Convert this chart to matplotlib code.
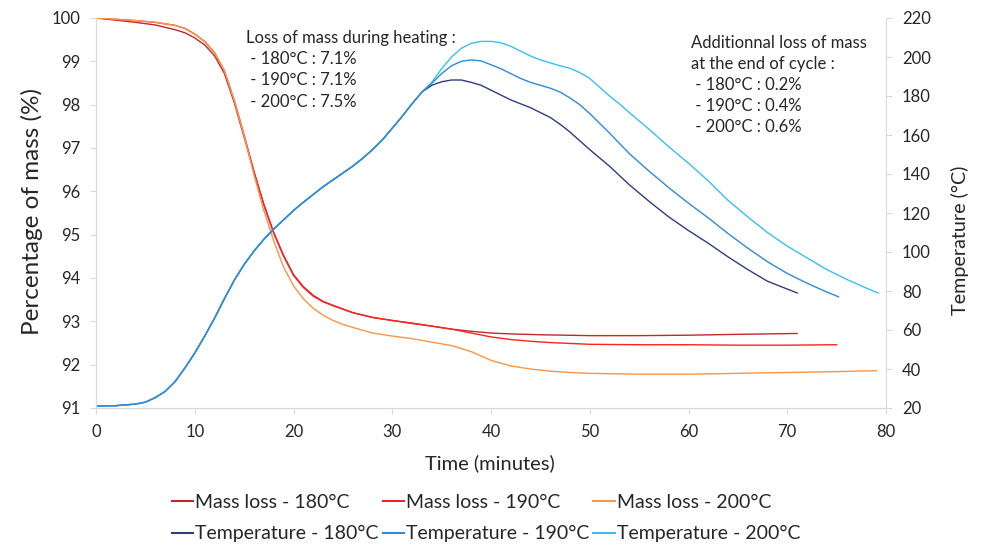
import matplotlib
matplotlib.use('Agg')
import matplotlib.pyplot as plt
from matplotlib.lines import Line2D

plt.rcParams['font.family'] = ['Lato', 'DejaVu Sans']

# ---- data ----
t_m180 = [0, 2, 4, 6, 8, 9, 10, 11, 12, 13, 14, 15, 16, 17, 18, 19, 20, 21, 22, 23, 24,
          26, 28, 30, 32, 34, 36, 38, 40, 42, 45, 50, 55, 60, 65, 71]
m180 = [100, 99.95, 99.9, 99.84, 99.73, 99.66, 99.54, 99.38, 99.13, 98.72, 98.05, 97.25,
        96.45, 95.7, 95.05, 94.52, 94.08, 93.8, 93.6, 93.46, 93.37, 93.2, 93.09, 93.02,
        92.96, 92.89, 92.82, 92.77, 92.73, 92.71, 92.69, 92.67, 92.67, 92.68, 92.7, 92.72]

t_m190 = [0, 2, 4, 6, 8, 9, 10, 11, 12, 13, 14, 15, 16, 17, 18, 19, 20, 21, 22, 23, 24,
          26, 28, 30, 32, 34, 36, 38, 40, 42, 44, 46, 48, 50, 55, 60, 65, 70, 75]
m190 = [100, 99.97, 99.94, 99.9, 99.83, 99.76, 99.63, 99.46, 99.2, 98.78, 98.1, 97.3,
        96.45, 95.68, 95.03, 94.5, 94.06, 93.78, 93.58, 93.45, 93.36, 93.2, 93.09, 93.02,
        92.95, 92.89, 92.82, 92.73, 92.64, 92.58, 92.54, 92.51, 92.49, 92.47, 92.46,
        92.46, 92.45, 92.45, 92.46]

t_m200 = [0, 2, 4, 6, 8, 9, 10, 11, 12, 13, 14, 15, 16, 17, 18, 19, 20, 21, 22, 23, 24,
          25, 26, 28, 30, 32, 34, 36, 38, 40, 42, 44, 46, 48, 50, 55, 60, 65, 70, 75, 79]
m200 = [100, 99.97, 99.94, 99.9, 99.83, 99.76, 99.63, 99.46, 99.2, 98.78, 98.1, 97.28,
        96.38, 95.55, 94.85, 94.25, 93.82, 93.52, 93.3, 93.14, 93.02, 92.93, 92.86, 92.73,
        92.66, 92.6, 92.52, 92.44, 92.3, 92.1, 91.97, 91.9, 91.85, 91.82, 91.8, 91.78,
        91.78, 91.8, 91.82, 91.84, 91.86]

# temperature is common to the three runs up to ~33 min
t_heat = [0, 2, 4, 5, 6, 7, 8, 9, 10, 11, 12, 13, 14, 15, 16, 17, 18, 19, 20, 21, 22,
          23, 24, 25, 26, 27, 28, 29, 30, 31, 32, 33]
T_heat = [21, 21.2, 22, 23, 25.3, 28.5, 33.5, 40.5, 48.2, 56.8, 66, 76, 85.5, 93.6, 100.5,
          106.5, 111.8, 116.5, 121.3, 125.5, 129.5, 133.5, 137, 140.5, 144, 148, 152.5,
          157.5, 163.5, 169.5, 176, 182]

t_T180 = [34, 35, 36, 37, 38, 39, 40, 41, 42, 43, 44, 45, 46, 47, 48, 49, 50, 52, 54, 56,
          58, 60, 62, 64, 66, 68, 70, 71]
T180 = [185.5, 187.3, 188.2, 188.2, 187, 185.5, 183, 180.5, 178, 176, 174, 171.5, 169,
        165.5, 161.5, 157, 152.5, 144, 134.5, 126, 118, 111, 104.5, 97.5, 91, 85, 81, 79]

t_T190 = [34, 35, 36, 37, 38, 39, 40, 41, 42, 43, 44, 45, 46, 47, 48, 49, 50, 52, 54, 56,
          58, 60, 62, 64, 66, 68, 70, 72, 74, 75.2]
T190 = [186.5, 191.5, 195.5, 197.8, 198.5, 198, 196, 194, 191.5, 189, 187, 185.5, 184, 182,
        179, 175.5, 171, 161, 150.5, 141.5, 133, 125, 117.5, 109.5, 102, 95, 89, 84, 79.5, 77]

t_T200 = [34, 35, 36, 37, 38, 39, 40, 41, 42, 43, 44, 45, 46, 47, 48, 49, 50, 51, 52, 53,
          54, 56, 58, 60, 62, 64, 66, 68, 70, 72, 74, 76, 78, 79.2]
T200 = [187, 194, 200, 204.5, 207, 208, 208, 207.3, 205.5, 203, 200.5, 198.5, 197, 195.5,
        194.2, 192, 189, 184.5, 180, 176, 171.5, 163, 154, 145.5, 136.5, 126.5, 118, 110,
        103, 97, 91, 86, 81.5, 79]

heat_note = ['Loss of mass during heating :', ' - 180°C : 7.1%', ' - 190°C : 7.1%',
             ' - 200°C : 7.5%']
cycle_note = ['Additionnal loss of mass', 'at the end of cycle :', ' - 180°C : 0.2%',
              ' - 190°C : 0.4%', ' - 200°C : 0.6%']

C_M180, C_M190, C_M200 = '#C0282F', '#FF2222', '#F79646'
C_T180, C_T190, C_T200 = '#2F3C7E', '#2F8AD8', '#38C0F5'
GRID = '#D9D9D9'
TXT = '#262626'

W, H = 981, 545
fig = plt.figure(figsize=(W / 100, H / 100), dpi=100)
ax = fig.add_axes([96 / W, 1 - 408 / H, 790 / W, 390 / H])
ax2 = ax.twinx()

lw = 1.0
ax.plot(t_m180, m180, color=C_M180, lw=lw)
ax.plot(t_m190, m190, color=C_M190, lw=lw)
ax.plot(t_m200, m200, color=C_M200, lw=lw)

# heating part: same for all runs, then each run continues on its own
for tt, TT, c in [(t_T180, T180, C_T180), (t_T200, T200, C_T200), (t_T190, T190, C_T190)]:
    ax2.plot(t_heat + tt, T_heat + TT, color=c, lw=lw)

ax.set_xlim(0, 80)
ax.set_ylim(91, 100)
ax2.set_ylim(20, 220)
ax.set_xticks(range(0, 81, 10))
ax.set_yticks(range(91, 101))
ax2.set_yticks(range(20, 221, 20))

for a in (ax, ax2):
    for s in a.spines.values():
        s.set_color(GRID)
    a.spines['top'].set_visible(False)
    a.tick_params(colors=GRID, labelcolor=TXT, labelsize=12, length=4.5, width=0.8, pad=7)
ax.spines['right'].set_visible(False)

fig.text(32 / W, 1 - 211 / H, 'Percentage of mass (%)', rotation=90, ha='center',
         va='center', fontsize=17.5, color=TXT)
fig.text(960 / W, 1 - 240 / H, 'Temperature (°C)', rotation=90, ha='center',
         va='center', fontsize=14.2, color=TXT)
fig.text(490 / W, 1 - 463 / H, 'Time (minutes)', ha='center', va='center',
         fontsize=14.5, color=TXT)

for i, line in enumerate(heat_note):
    fig.text(246 / W, 1 - (43 + 21.2 * i) / H, line, ha='left', va='baseline',
             fontsize=12, color=TXT)
for i, line in enumerate(cycle_note):
    fig.text(691 / W, 1 - (47.7 + 21.2 * i) / H, line, ha='left', va='baseline',
             fontsize=12, color=TXT)

handles = [
    Line2D([], [], color=C_M180, lw=1.5), Line2D([], [], color=C_T180, lw=1.5),
    Line2D([], [], color=C_M190, lw=1.5), Line2D([], [], color=C_T190, lw=1.5),
    Line2D([], [], color=C_M200, lw=1.5), Line2D([], [], color=C_T200, lw=1.5),
]
labels = ['Mass loss - 180°C', 'Temperature - 180°C', 'Mass loss - 190°C',
          'Temperature - 190°C', 'Mass loss - 200°C', 'Temperature - 200°C']
fig.legend(handles, labels, ncol=3, loc='center', bbox_to_anchor=(486 / W, 1 - 518 / H),
           frameon=False, fontsize=14, handlelength=1.1, handletextpad=0.1,
           columnspacing=0.2, labelspacing=0.76, labelcolor=TXT, borderpad=0)

fig.savefig('out.png', dpi=100)
